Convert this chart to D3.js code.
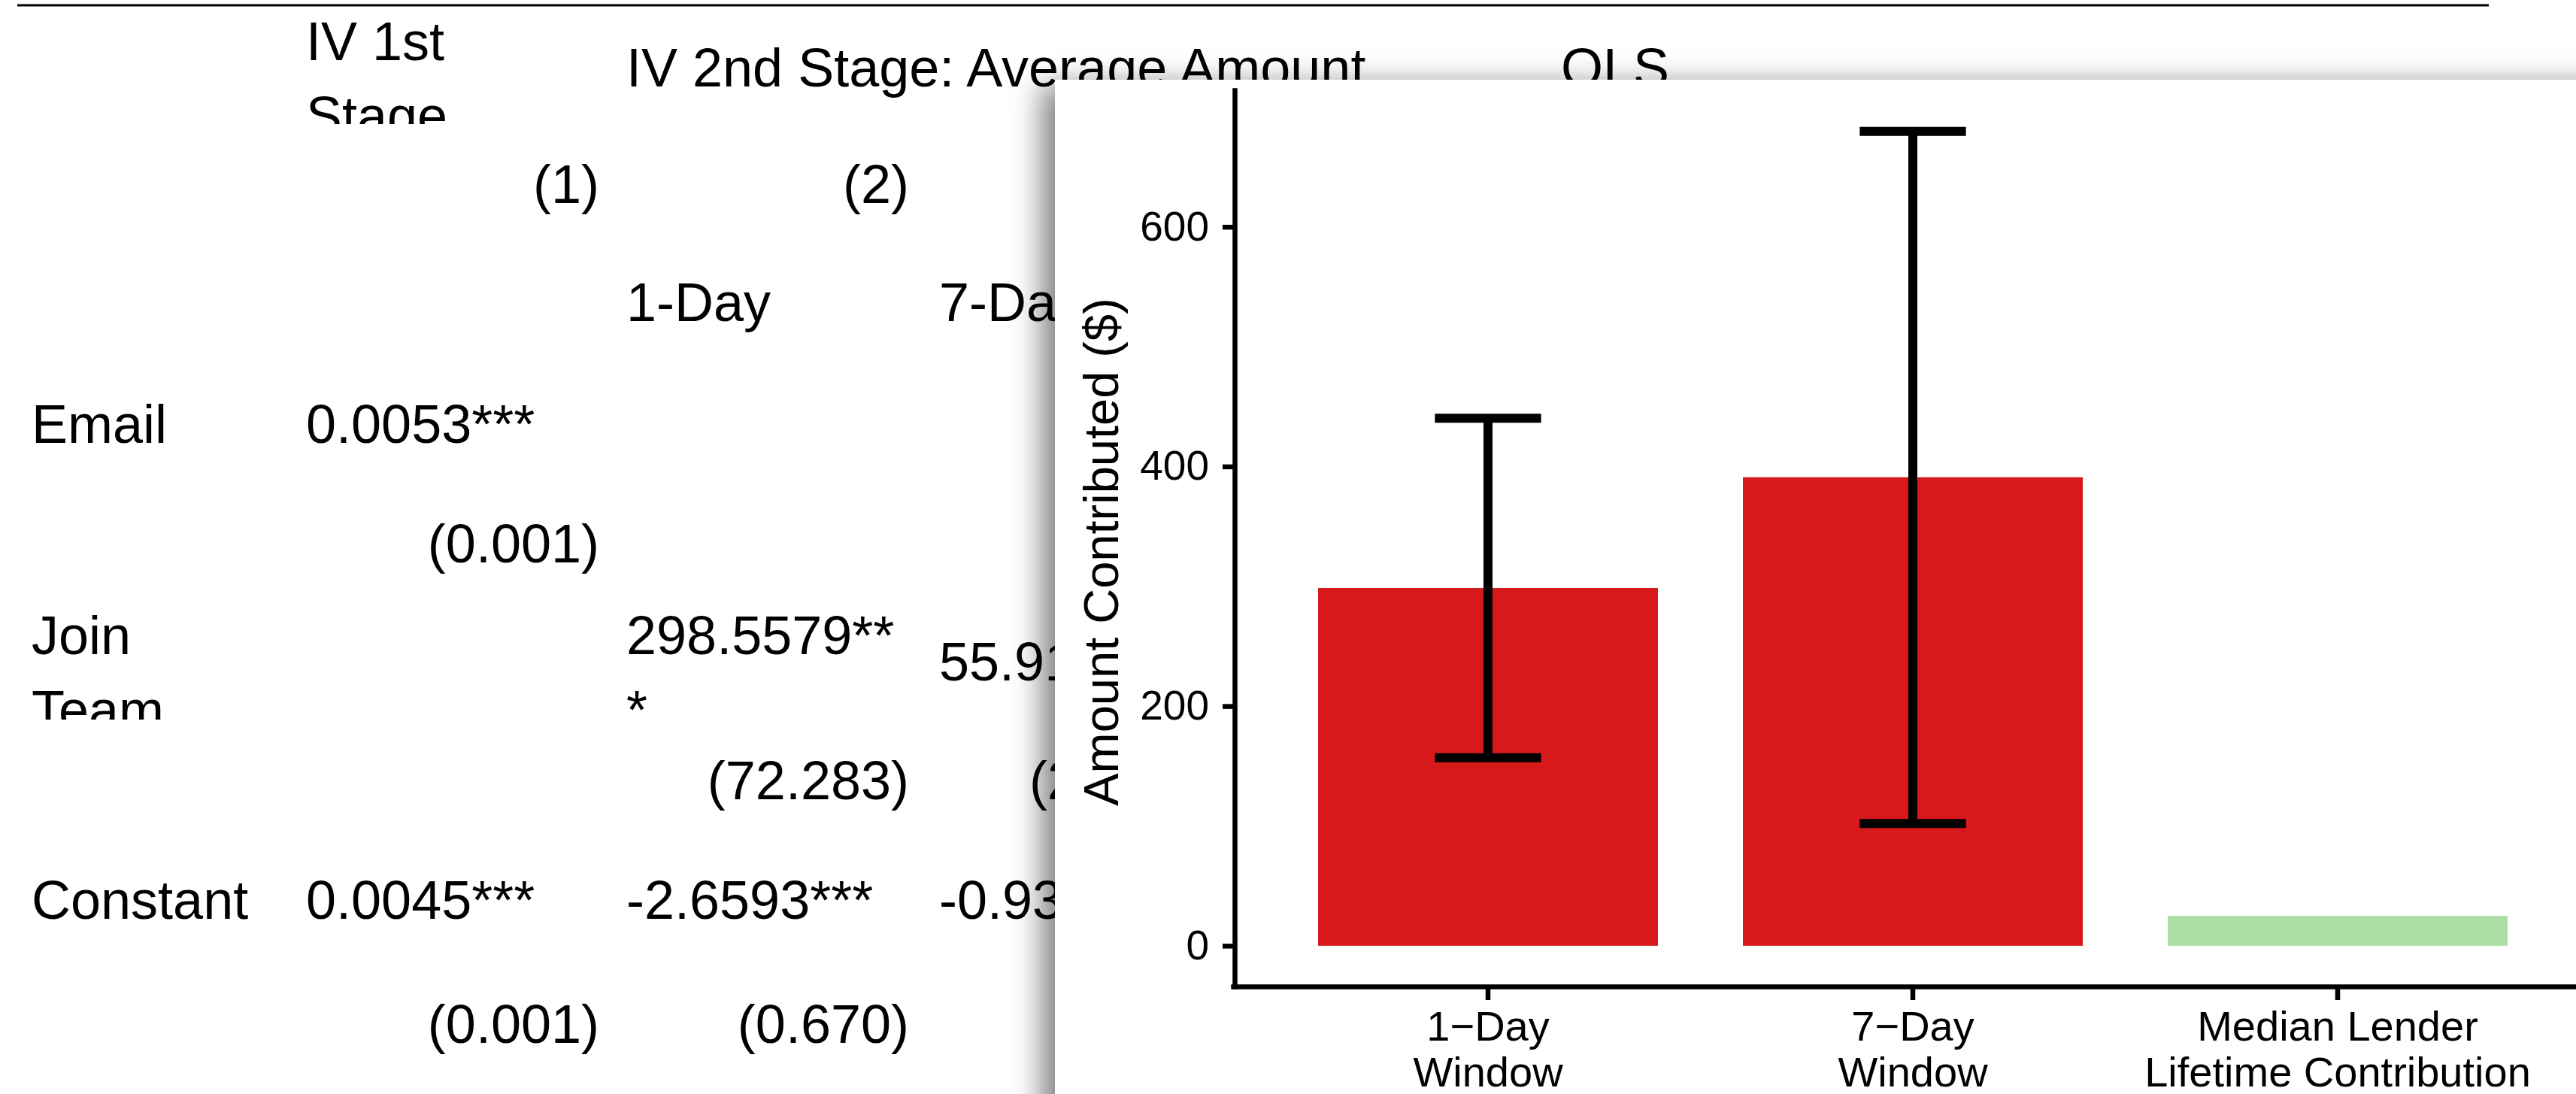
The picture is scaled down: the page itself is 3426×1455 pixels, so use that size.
<!DOCTYPE html>
<html>
<head>
<meta charset="utf-8">
<script src="https://cdn.jsdelivr.net/npm/d3@7"></script>
<style>
  body { margin: 0; background: #fff; overflow: hidden; }
  svg { display: block; }
  text { font-family: "Liberation Sans", Arial, Helvetica, sans-serif; fill: #000; }
</style>
</head>
<body>
<div id="chart"></div>
<script>
// ---- chart data ----
const categories = ["1−Day\nWindow", "7−Day\nWindow", "Median Lender\nLifetime Contribution"]
const amounts = [298.56, 391.0, 25.0]
const lowerCI = [156.9, 102.0, null]
const upperCI = [440.2, 679.6, null]
const yTicks = [0, 200, 400, 600]
const yTitle = "Amount Contributed ($)"

// ---- background table (regression output) ----
// [row, col, text, align]
const tableCells = [
    [0, 1, "IV 1st\nStage", "start"],
    [0, 2, "IV 2nd Stage: Average Amount", "start"],
    [0, 5, "OLS", "start"],
    [1, 1, "(1)", "end"],
    [1, 2, "(2)", "end"],
    [2, 2, "1-Day", "start"],
    [2, 3, "7-Day", "start"],
    [3, 0, "Email", "start"],
    [3, 1, "0.0053***", "start"],
    [4, 1, "(0.001)", "end"],
    [5, 0, "Join\nTeam", "start"],
    [5, 2, "298.5579**\n*", "start"],
    [5, 3, "55.91", "start"],
    [6, 2, "(72.283)", "end"],
    [6, 3, "(2", "end"],
    [7, 0, "Constant", "start"],
    [7, 1, "0.0045***", "start"],
    [7, 2, "-2.6593***", "start"],
    [7, 3, "-0.93", "start"],
    [8, 1, "(0.001)", "end"],
    [8, 2, "(0.670)", "end"]
]

// layout
const W = 3426, H = 1455
const colLeft = [42, 407, 833, 1249, 1665, 2076]
const colRight = [400, 797, 1209, 1433, 2044, 2460]
const rowBaseline = [115, 270, 427, 589, 748, 905, 1063, 1222, 1387]
const rowTop = [10, 165, 335, 480, 650, 805, 957, 1110, 1280]
const rowBottom = [165, 335, 480, 650, 805, 957, 1110, 1280, 1455]
const panel = {left: 1403, top: 106}
const plot = {left: 1640, right: 3448, top: 120, bottom: 1312}

const svg = d3.select("#chart")
              .append("svg")
              .attr("width", W)
              .attr("height", H)

const defs = svg.append("defs")
const shadow = defs.append("filter")
                   .attr("id", "shadow")
                   .attr("x", "-10%").attr("y", "-10%")
                   .attr("width", "120%").attr("height", "120%")
shadow.append("feDropShadow")
      .attr("dx", -16)
      .attr("dy", 8)
      .attr("stdDeviation", 20)
      .attr("flood-color", "#000")
      .attr("flood-opacity", 0.52)

// clip per table row
rowTop.forEach((t, i) => {
    defs.append("clipPath").attr("id", `row-${i}`)
        .append("rect")
        .attr("x", 0).attr("y", t)
        .attr("width", W).attr("height", rowBottom[i] - t)
})

// top rule of the table
svg.append("line")
   .attr("x1", 23).attr("x2", 3310)
   .attr("y1", 7).attr("y2", 7)
   .attr("stroke", "#000")
   .attr("stroke-width", 3)

const table = svg.append("g").attr("font-size", 72)
tableCells.forEach(([r, c, txt, align]) => {
    const lines = txt.split("\n")
    const t = table.append("text")
                   .attr("clip-path", `url(#row-${r})`)
                   .attr("text-anchor", align)
    const x = align === "end" ? colRight[c] : colLeft[c]
    lines.forEach((line, k) => {
        t.append("tspan")
         .attr("x", x)
         .attr("y", rowBaseline[r] - (lines.length - 1) * 35 + k * 99)
         .text(line)
    })
})

// ---- chart panel on top ----
svg.append("rect")
   .attr("x", panel.left)
   .attr("y", panel.top)
   .attr("width", W - panel.left + 200)
   .attr("height", H - panel.top + 200)
   .attr("fill", "#fff")
   .attr("filter", "url(#shadow)")

const x = d3.scaleBand()
            .domain(categories)
            .range([plot.left, plot.right])
            .paddingInner(0.2)
            .paddingOuter(0.2)

const y = d3.scaleLinear()
            .domain([-34, 714])
            .range([plot.bottom, plot.top])

const color = d3.scaleOrdinal()
                .domain(categories)
                .range(["#d7191c", "#d7191c", "#abdda4"])

const chart = svg.append("g")

// bars
chart.selectAll("rect.bar")
     .data(categories)
     .join("rect")
     .attr("class", "bar")
     .attr("x", d => x(d))
     .attr("width", x.bandwidth())
     .attr("y", (d, i) => y(amounts[i]))
     .attr("height", (d, i) => y(0) - y(amounts[i]))
     .attr("fill", d => color(d))

// error bars
const capHalf = x.step() * 0.125
const errs = categories.map((c, i) => ({c: c, lo: lowerCI[i], hi: upperCI[i]})).filter(d => d.lo !== null)
const eg = chart.append("g").attr("stroke", "#000").attr("stroke-width", 12)
eg.selectAll("line.stem")
  .data(errs)
  .join("line")
  .attr("class", "stem")
  .attr("x1", d => x(d.c) + x.bandwidth() / 2)
  .attr("x2", d => x(d.c) + x.bandwidth() / 2)
  .attr("y1", d => y(d.lo))
  .attr("y2", d => y(d.hi))
eg.selectAll("line.capHi")
  .data(errs)
  .join("line")
  .attr("class", "capHi")
  .attr("x1", d => x(d.c) + x.bandwidth() / 2 - capHalf)
  .attr("x2", d => x(d.c) + x.bandwidth() / 2 + capHalf)
  .attr("y1", d => y(d.hi))
  .attr("y2", d => y(d.hi))
eg.selectAll("line.capLo")
  .data(errs)
  .join("line")
  .attr("class", "capLo")
  .attr("x1", d => x(d.c) + x.bandwidth() / 2 - capHalf)
  .attr("x2", d => x(d.c) + x.bandwidth() / 2 + capHalf)
  .attr("y1", d => y(d.lo))
  .attr("y2", d => y(d.lo))

// axes
const yAxis = chart.append("g")
                   .attr("transform", `translate(${plot.left + 2}, 0)`)
                   .call(d3.axisLeft(y).tickValues(yTicks).tickSize(16).tickSizeOuter(0).tickPadding(18))
const xAxis = chart.append("g")
                   .attr("transform", `translate(0, ${plot.bottom})`)
                   .call(d3.axisBottom(x).tickSize(18).tickSizeOuter(0).tickPadding(14))

;[yAxis, xAxis].forEach(ax => {
    ax.select(".domain").attr("stroke", "#000").attr("stroke-width", 6.5).attr("stroke-linecap", "square")
    ax.selectAll(".tick line").attr("stroke", "#000").attr("stroke-width", 6.5)
    ax.selectAll("text").attr("fill", "#000").attr("font-family", null)
})
yAxis.attr("font-size", 55)
xAxis.attr("font-size", 56)

xAxis.selectAll(".tick text").each(function(d) {
    const t = d3.select(this)
    t.text(null)
    d.split("\n").forEach((line, k) => {
        t.append("tspan")
         .attr("x", 0)
         .attr("dy", k === 0 ? "0.71em" : 61)
         .text(line)
    })
})

// y axis title
chart.append("text")
     .attr("transform", `translate(1487, 734) rotate(-90)`)
     .attr("text-anchor", "middle")
     .attr("font-size", 65)
     .text(yTitle)
</script>
</body>
</html>
